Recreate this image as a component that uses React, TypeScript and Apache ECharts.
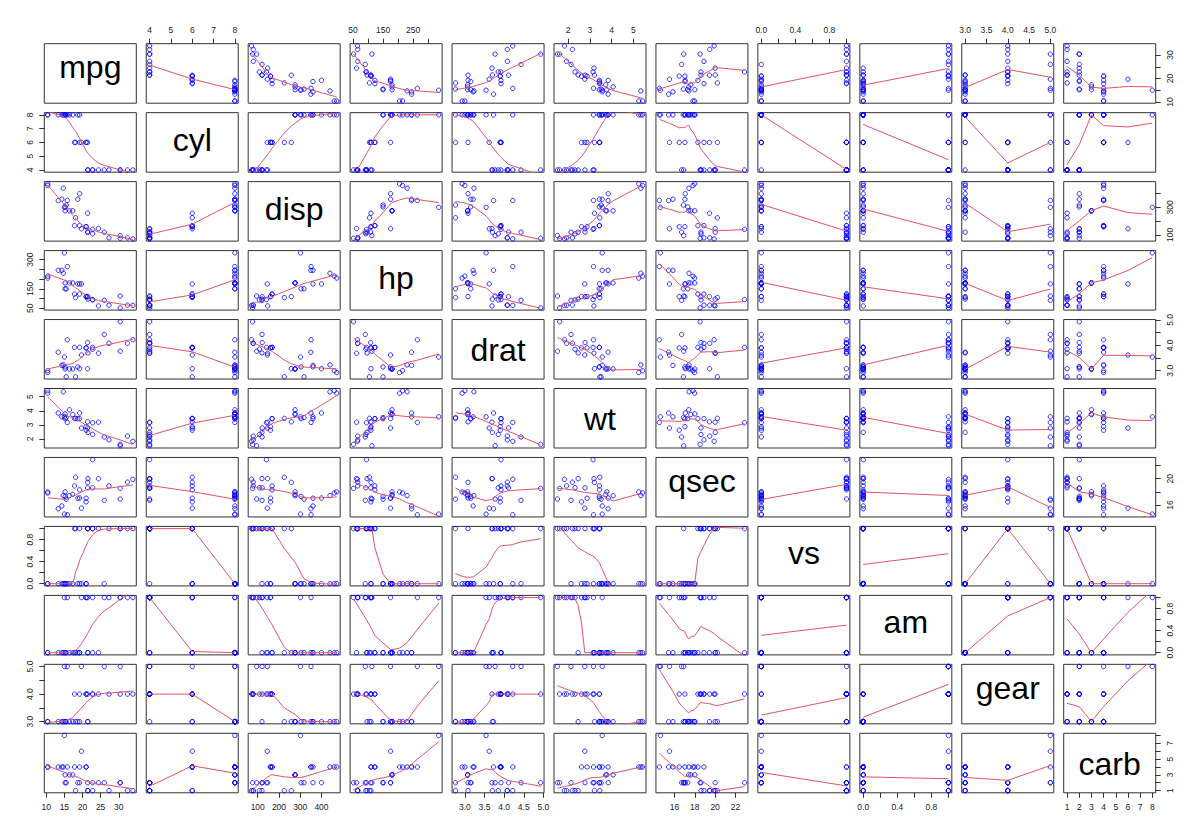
import React, { useEffect, useRef } from 'react';
import * as echarts from 'echarts';

// ---- data (mtcars) ----
const varNames = ['mpg', 'cyl', 'disp', 'hp', 'drat', 'wt', 'qsec', 'vs', 'am', 'gear', 'carb'];

const mpg = [21.0, 21.0, 22.8, 21.4, 18.7, 18.1, 14.3, 24.4, 22.8, 19.2, 17.8, 16.4, 17.3, 15.2, 10.4, 10.4, 14.7, 32.4, 30.4, 33.9, 21.5, 15.5, 15.2, 13.3, 19.2, 27.3, 26.0, 30.4, 15.8, 19.7, 15.0, 21.4];
const cyl = [6, 6, 4, 6, 8, 6, 8, 4, 4, 6, 6, 8, 8, 8, 8, 8, 8, 4, 4, 4, 4, 8, 8, 8, 8, 4, 4, 4, 8, 6, 8, 4];
const disp = [160, 160, 108, 258, 360, 225, 360, 146.7, 140.8, 167.6, 167.6, 275.8, 275.8, 275.8, 472, 460, 440, 78.7, 75.7, 71.1, 120.1, 318, 304, 350, 400, 79, 120.3, 95.1, 351, 145, 301, 121];
const hp = [110, 110, 93, 110, 175, 105, 245, 62, 95, 123, 123, 180, 180, 180, 205, 215, 230, 66, 52, 65, 97, 150, 150, 245, 175, 66, 91, 113, 264, 175, 335, 109];
const drat = [3.90, 3.90, 3.85, 3.08, 3.15, 2.76, 3.21, 3.69, 3.92, 3.92, 3.92, 3.07, 3.07, 3.07, 2.93, 3.00, 3.23, 4.08, 4.93, 4.22, 3.70, 2.76, 3.15, 3.73, 3.08, 4.08, 4.43, 3.77, 4.22, 3.62, 3.54, 4.11];
const wt = [2.620, 2.875, 2.320, 3.215, 3.440, 3.460, 3.570, 3.190, 3.150, 3.440, 3.440, 4.070, 3.730, 3.780, 5.250, 5.424, 5.345, 2.200, 1.615, 1.835, 2.465, 3.520, 3.435, 3.840, 3.845, 1.935, 2.140, 1.513, 3.170, 2.770, 3.570, 2.780];
const qsec = [16.46, 17.02, 18.61, 19.44, 17.02, 20.22, 15.84, 20.00, 22.90, 18.30, 18.90, 17.40, 17.60, 18.00, 17.98, 17.82, 17.42, 19.47, 18.52, 19.90, 20.01, 16.87, 17.30, 15.41, 17.05, 18.90, 16.70, 16.90, 14.50, 15.50, 14.60, 18.60];
const vs = [0, 0, 1, 1, 0, 1, 0, 1, 1, 1, 1, 0, 0, 0, 0, 0, 0, 1, 1, 1, 1, 0, 0, 0, 0, 1, 0, 1, 0, 0, 0, 1];
const am = [1, 1, 1, 0, 0, 0, 0, 0, 0, 0, 0, 0, 0, 0, 0, 0, 0, 1, 1, 1, 0, 0, 0, 0, 0, 1, 1, 1, 1, 1, 1, 1];
const gear = [4, 4, 4, 3, 3, 3, 3, 4, 4, 4, 4, 3, 3, 3, 3, 3, 3, 4, 4, 4, 3, 3, 3, 3, 3, 4, 5, 5, 5, 5, 5, 4];
const carb = [4, 4, 1, 1, 2, 1, 4, 2, 2, 4, 4, 3, 3, 3, 4, 4, 4, 1, 2, 1, 1, 2, 2, 4, 2, 1, 2, 2, 4, 6, 8, 2];

// ---- ticks and labels ----
const mpgTicks = [10, 15, 20, 25, 30];
const cylTicks = [4, 5, 6, 7, 8];
const dispTicks = [100, 200, 300, 400];
const hpTicks = [50, 100, 150, 200, 250, 300];
const dratTicks = [3, 3.5, 4, 4.5, 5];
const wtTicks = [2, 3, 4, 5];
const qsecTicks = [16, 18, 20, 22];
const vsTicks = [0, 0.2, 0.4, 0.6, 0.8, 1];
const amTicks = [0, 0.2, 0.4, 0.6, 0.8, 1];
const gearTicks = [3, 3.5, 4, 4.5, 5];
const carbTicks = [1, 2, 3, 4, 5, 6, 7, 8];

const mpgXLabels = [10, 15, 20, 25, 30];
const mpgYLabels = [10, 20, 30];
const cylXLabels = [4, 5, 6, 7, 8];
const cylYLabels = [4, 5, 6, 7, 8];
const dispXLabels = [100, 200, 300, 400];
const dispYLabels = [100, 300];
const hpXLabels = [50, 150, 250];
const hpYLabels = [50, 150, 300];
const dratXLabels = [3, 3.5, 4, 4.5, 5];
const dratYLabels = [3, 4, 5];
const wtXLabels = [2, 3, 4, 5];
const wtYLabels = [2, 3, 4, 5];
const qsecXLabels = [16, 18, 20, 22];
const qsecYLabels = [16, 20];
const vsXLabels = [0, 0.4, 0.8];
const vsYLabels = [0, 0.4, 0.8];
const amXLabels = [0, 0.4, 0.8];
const amYLabels = [0, 0.4, 0.8];
const gearXLabels = [3, 3.5, 4, 4.5, 5];
const gearYLabels = [3, 4, 5];
const carbXLabels = [1, 2, 3, 4, 5, 6, 7, 8];
const carbYLabels = [1, 3, 5, 7];

const labelDigits = [0, 0, 0, 0, 1, 0, 0, 1, 1, 1, 0];

const varValues = [mpg, cyl, disp, hp, drat, wt, qsec, vs, am, gear, carb];
const varTicks = [mpgTicks, cylTicks, dispTicks, hpTicks, dratTicks, wtTicks, qsecTicks, vsTicks, amTicks, gearTicks, carbTicks];
const varXLabels = [mpgXLabels, cylXLabels, dispXLabels, hpXLabels, dratXLabels, wtXLabels, qsecXLabels, vsXLabels, amXLabels, gearXLabels, carbXLabels];
const varYLabels = [mpgYLabels, cylYLabels, dispYLabels, hpYLabels, dratYLabels, wtYLabels, qsecYLabels, vsYLabels, amYLabels, gearYLabels, carbYLabels];

// ---- R's lowess (clowess port) ----
function cube(v: number) { return v * v * v; }
function sq(v: number) { return v * v; }

function lowest(X: number[], Y: number[], n: number, xs: number, nleft: number, nright: number,
  W: number[], userw: boolean, RW: number[]): { ok: boolean; ys: number } {
  const range = X[n] - X[1];
  const h = Math.max(xs - X[nleft], X[nright] - xs);
  const h9 = 0.999 * h;
  const h1 = 0.001 * h;
  let a = 0;
  let j = nleft;
  while (j <= n) {
    W[j] = 0;
    const r = Math.abs(X[j] - xs);
    if (r <= h9) {
      if (r <= h1) W[j] = 1;
      else W[j] = cube(1 - cube(r / h));
      if (userw) W[j] *= RW[j];
      a += W[j];
    } else if (X[j] > xs) break;
    j++;
  }
  const nrt = j - 1;
  if (a <= 0) return { ok: false, ys: 0 };
  for (j = nleft; j <= nrt; j++) W[j] /= a;
  if (h > 0) {
    a = 0;
    for (j = nleft; j <= nrt; j++) a += W[j] * X[j];
    let b = xs - a;
    let c = 0;
    for (j = nleft; j <= nrt; j++) c += W[j] * (X[j] - a) * (X[j] - a);
    if (Math.sqrt(c) > 0.001 * range) {
      b /= c;
      for (j = nleft; j <= nrt; j++) W[j] *= (b * (X[j] - a) + 1);
    }
  }
  let ys = 0;
  for (j = nleft; j <= nrt; j++) ys += W[j] * Y[j];
  return { ok: true, ys };
}

function lowess(xIn: number[], yIn: number[], f = 2 / 3, nsteps = 3): number[][] {
  const n = xIn.length;
  const order = xIn.map((_, i) => i).sort((a, b) => (xIn[a] - xIn[b]) || (a - b));
  const X = [NaN, ...order.map((i) => xIn[i])];
  const Y = [NaN, ...order.map((i) => yIn[i])];
  const delta = 0.01 * (X[n] - X[1]);
  const YS = new Array(n + 1).fill(0);
  const RW = new Array(n + 1).fill(0);
  const RES = new Array(n + 1).fill(0);
  const ns = Math.max(2, Math.min(n, Math.floor(f * n + 1e-7)));
  let iter = 1;
  while (iter <= nsteps + 1) {
    let nleft = 1;
    let nright = ns;
    let last = 0;
    let i = 1;
    for (;;) {
      if (nright < n) {
        const d1 = X[i] - X[nleft];
        const d2 = X[nright + 1] - X[i];
        if (d1 > d2) { nleft++; nright++; continue; }
      }
      const r = lowest(X, Y, n, X[i], nleft, nright, RES, iter > 1, RW);
      YS[i] = r.ok ? r.ys : Y[i];
      if (last < i - 1) {
        const denom = X[i] - X[last];
        for (let j = last + 1; j < i; j++) {
          const alpha = (X[j] - X[last]) / denom;
          YS[j] = alpha * YS[i] + (1 - alpha) * YS[last];
        }
      }
      last = i;
      const cut = X[last] + delta;
      for (i = last + 1; i <= n; i++) {
        if (X[i] > cut) break;
        if (X[i] === X[last]) { YS[i] = YS[last]; last = i; }
      }
      i = Math.max(last + 1, i - 1);
      if (last >= n) break;
    }
    for (let k = 1; k <= n; k++) RES[k] = Y[k] - YS[k];
    let sc = 0;
    for (let k = 1; k <= n; k++) sc += Math.abs(RES[k]);
    sc /= n;
    if (iter > nsteps) break;
    const s = RES.slice(1).map((v) => Math.abs(v)).sort((a, b) => a - b);
    const m1 = Math.floor(n / 2);
    let cmad: number;
    if (n % 2 === 0) {
      const m2 = n - m1 - 1;
      cmad = 3 * (s[m1] + s[m2]);
    } else {
      cmad = 6 * s[m1];
    }
    if (cmad < 1e-7 * sc) break;
    const c9 = 0.999 * cmad;
    const c1 = 0.001 * cmad;
    for (let k = 1; k <= n; k++) {
      const r = Math.abs(RES[k]);
      if (r <= c1) RW[k] = 1;
      else if (r <= c9) RW[k] = sq(1 - sq(r / cmad));
      else RW[k] = 0;
    }
    iter++;
  }
  const out: number[][] = [];
  for (let k = 1; k <= n; k++) out.push([X[k], YS[k]]);
  return out;
}

// ---- layout ----
const L0 = 44.3;
const DX = 101.94;
const PW = 92;
const T0 = 43.7;
const DY = 68.96;
const PH = 59.5;
const FONT = '"Liberation Sans", Arial, Helvetica, sans-serif';
const DIAG_FS = 32;
const LABEL_MARGIN = 9.5;

function buildOption() {
  const N = varNames.length;
  const ext = varValues.map((v) => {
    const lo = Math.min(...v);
    const hi = Math.max(...v);
    const d = hi - lo;
    return [lo - 0.04 * d, hi + 0.04 * d];
  });
  const grids: any[] = [];
  const xAxes: any[] = [];
  const yAxes: any[] = [];
  const series: any[] = [];
  const graphics: any[] = [];

  for (let r = 0; r < N; r++) {
    for (let c = 0; c < N; c++) {
      const k = r * N + c;
      grids.push({
        left: L0 + c * DX, top: T0 + r * DY, width: PW, height: PH,
        show: true, borderColor: '#333', borderWidth: 1, backgroundColor: 'transparent',
        containLabel: false,
      });
      const showTop = r === 0 && c % 2 === 1;
      const showBottom = r === N - 1 && c % 2 === 0;
      const showLeft = c === 0 && r % 2 === 1;
      const showRight = c === N - 1 && r % 2 === 0;
      const dx = labelDigits[c];
      const dy = labelDigits[r];
      xAxes.push({
        type: 'value', gridIndex: k, min: ext[c][0], max: ext[c][1],
        position: showTop ? 'top' : 'bottom',
        show: showTop || showBottom,
        splitLine: { show: false },
        axisLine: { show: false },
        axisTick: { show: true, length: 5, customValues: varTicks[c], lineStyle: { color: '#333', width: 1 } },
        axisLabel: {
          show: true, customValues: varXLabels[c], margin: LABEL_MARGIN,
          fontSize: 8.5, fontFamily: FONT, color: '#222',
          formatter: (v: number) => Number(v).toFixed(dx),
        },
      });
      yAxes.push({
        type: 'value', gridIndex: k, min: ext[r][0], max: ext[r][1],
        position: showRight ? 'right' : 'left',
        show: showLeft || showRight,
        splitLine: { show: false },
        axisLine: { show: false },
        axisTick: { show: true, length: 5, customValues: varTicks[r], lineStyle: { color: '#333', width: 1 } },
        axisLabel: {
          show: true, customValues: varYLabels[r], margin: LABEL_MARGIN, rotate: 90,
          fontSize: 8.5, fontFamily: FONT, color: '#222',
          formatter: (v: number) => Number(v).toFixed(dy),
        },
      });
      if (r === c) {
        const name = varNames[r];
        const hasAsc = /[bdfhklt]/.test(name);
        const hasDesc = /[gjpqy]/.test(name);
        const top = hasAsc ? -0.729 * DIAG_FS : -0.519 * DIAG_FS;
        const bottom = hasDesc ? 0.21 * DIAG_FS : 0;
        const cy = T0 + r * DY + PH / 2;
        const baseline = cy - (top + bottom) / 2;
        graphics.push({
          type: 'text',
          x: L0 + c * DX + PW / 2,
          y: baseline - 0.3465 * DIAG_FS,
          style: {
            text: name, fontSize: DIAG_FS, fontFamily: FONT, fill: '#000',
            textAlign: 'center', textVerticalAlign: 'middle', align: 'center', verticalAlign: 'middle',
          },
        });
      } else {
        const xs = varValues[c];
        const ys = varValues[r];
        series.push({
          type: 'scatter', xAxisIndex: k, yAxisIndex: k,
          data: xs.map((xv, i) => [xv, ys[i]]),
          symbol: 'circle', symbolSize: 4.4,
          itemStyle: { color: 'rgba(255,255,255,0)', borderColor: '#0000FF', borderWidth: 1 },
          silent: true, z: 2,
        });
        series.push({
          type: 'line', xAxisIndex: k, yAxisIndex: k,
          data: lowess(xs, ys),
          showSymbol: false, symbol: 'none', clip: true,
          lineStyle: { color: '#DF536B', width: 1 },
          silent: true, z: 3,
        });
      }
    }
  }

  return {
    animation: false,
    backgroundColor: '#ffffff',
    grid: grids,
    xAxis: xAxes,
    yAxis: yAxes,
    series,
    graphic: graphics,
  };
}

export default function App() {
  const ref = useRef<HTMLDivElement>(null);
  useEffect(() => {
    if (!ref.current) return;
    const chart = echarts.init(ref.current, undefined, { renderer: 'svg' });
    chart.setOption(buildOption() as any);
    return () => chart.dispose();
  }, []);
  return (
    <div
      ref={ref}
      style={{ position: 'absolute', left: 0, top: 0, width: 1200, height: 837, background: '#fff' }}
    />
  );
}
